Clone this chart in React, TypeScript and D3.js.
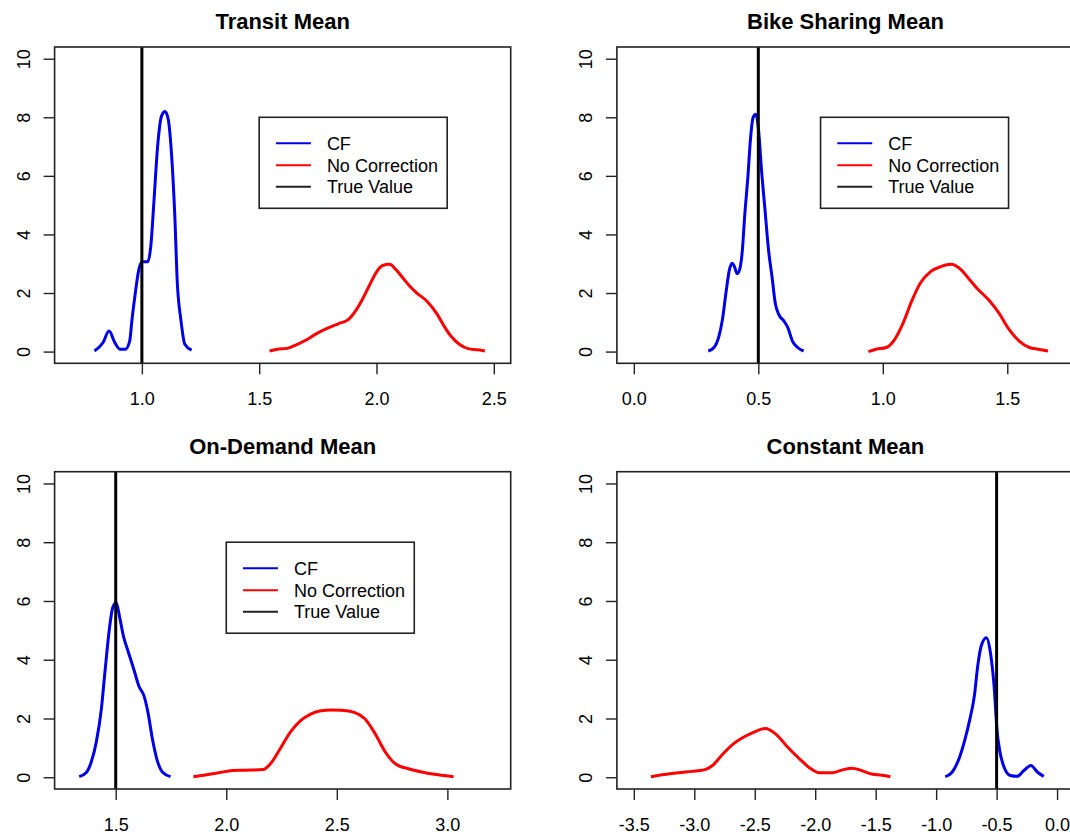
import { useEffect, useRef } from 'react'
import * as d3 from 'd3'

type Pt = [number, number]

// density curves: [x, density]
const transitCF: Pt[] = [
  [0.798, 0.02], [0.834, 0.3], [0.86, 0.7], [0.885, 0.3], [0.907, 0.08], [0.929, 0.08],
  [0.948, 0.36], [0.958, 1.1], [0.972, 2.0], [0.987, 2.8], [1.001, 3.07], [1.026, 3.07],
  [1.038, 3.6], [1.052, 5.2], [1.067, 7.0], [1.084, 8.05], [1.099, 8.2], [1.113, 7.9],
  [1.125, 6.9], [1.14, 4.7], [1.151, 2.35], [1.166, 1.1], [1.183, 0.25], [1.212, 0.05],
]
const transitNC: Pt[] = [
  [1.544, 0.02], [1.576, 0.08], [1.619, 0.11], [1.663, 0.25], [1.706, 0.42], [1.75, 0.64],
  [1.794, 0.81], [1.837, 0.95], [1.881, 1.1], [1.91, 1.38], [1.939, 1.77], [1.968, 2.23],
  [1.997, 2.68], [2.026, 2.94], [2.055, 2.98], [2.084, 2.79], [2.113, 2.51], [2.142, 2.23],
  [2.172, 2.0], [2.215, 1.72], [2.259, 1.27], [2.288, 0.87], [2.317, 0.53], [2.353, 0.25],
  [2.39, 0.1], [2.433, 0.06], [2.462, 0.02],
]
const bikeCF: Pt[] = [
  [0.299, 0.02], [0.322, 0.14], [0.342, 0.53], [0.356, 1.1], [0.37, 2.0], [0.384, 2.8],
  [0.395, 3.02], [0.404, 2.9], [0.415, 2.66], [0.425, 2.8], [0.436, 3.47], [0.445, 4.6],
  [0.459, 6.07], [0.468, 7.2], [0.479, 7.99], [0.49, 8.1], [0.5, 7.65], [0.514, 6.07],
  [0.527, 4.83], [0.541, 3.47], [0.555, 2.56], [0.568, 1.66], [0.582, 1.27], [0.603, 1.04],
  [0.619, 0.81], [0.637, 0.36], [0.658, 0.14], [0.682, 0.02],
]
const bikeNC: Pt[] = [
  [0.942, 0.0], [0.973, 0.08], [1.014, 0.14], [1.048, 0.42], [1.082, 0.98], [1.116, 1.72],
  [1.151, 2.34], [1.192, 2.73], [1.233, 2.9], [1.274, 2.98], [1.315, 2.79], [1.349, 2.45],
  [1.384, 2.11], [1.425, 1.77], [1.466, 1.32], [1.507, 0.76], [1.548, 0.36], [1.589, 0.14],
  [1.623, 0.08], [1.664, 0.02],
]
const demandCF: Pt[] = [
  [1.335, 0.02], [1.366, 0.15], [1.389, 0.51], [1.412, 1.19], [1.435, 2.32], [1.451, 3.56],
  [1.471, 5.03], [1.486, 5.76], [1.502, 5.95], [1.517, 5.48], [1.535, 4.8], [1.558, 4.24],
  [1.582, 3.67], [1.605, 3.1], [1.628, 2.77], [1.646, 2.2], [1.666, 1.3], [1.686, 0.62],
  [1.712, 0.17], [1.748, 0.02],
]
const demandNC: Pt[] = [
  [1.851, 0.02], [1.905, 0.08], [1.966, 0.15], [2.028, 0.23], [2.089, 0.24], [2.166, 0.26],
  [2.205, 0.51], [2.243, 0.96], [2.289, 1.53], [2.335, 1.92], [2.382, 2.15], [2.428, 2.26],
  [2.474, 2.29], [2.52, 2.28], [2.582, 2.2], [2.628, 1.98], [2.674, 1.47], [2.72, 0.85],
  [2.766, 0.45], [2.828, 0.28], [2.889, 0.17], [2.951, 0.09], [3.028, 0.02],
]
const constCF: Pt[] = [
  [-0.925, 0.02], [-0.868, 0.17], [-0.812, 0.62], [-0.761, 1.3], [-0.721, 1.98], [-0.684, 2.77],
  [-0.656, 3.79], [-0.628, 4.46], [-0.585, 4.75], [-0.551, 4.24], [-0.523, 3.22], [-0.495, 1.53],
  [-0.472, 0.85], [-0.438, 0.34], [-0.387, 0.06], [-0.33, 0.03], [-0.274, 0.23], [-0.217, 0.4],
  [-0.161, 0.17], [-0.11, 0.03],
]
const constNC: Pt[] = [
  [-3.359, 0.02], [-3.245, 0.09], [-3.132, 0.15], [-3.019, 0.2], [-2.92, 0.25], [-2.849, 0.4],
  [-2.764, 0.79], [-2.679, 1.13], [-2.594, 1.36], [-2.51, 1.53], [-2.411, 1.66], [-2.326, 1.47],
  [-2.227, 1.02], [-2.128, 0.62], [-2.043, 0.31], [-1.958, 0.15], [-1.859, 0.15], [-1.774, 0.25],
  [-1.695, 0.31], [-1.618, 0.23], [-1.533, 0.11], [-1.448, 0.07], [-1.378, 0.02],
]

const titles = ['Transit Mean', 'Bike Sharing Mean', 'On-Demand Mean', 'Constant Mean']
const trueValues = [1.0, 0.5, 1.5, -0.5]
const xLimits: Pt[] = [[0.7, 2.5], [0, 1.7], [1.3, 3.21], [-3.5, 0]]
const xTicks = [
  [1.0, 1.5, 2.0, 2.5],
  [0, 0.5, 1.0, 1.5],
  [1.5, 2.0, 2.5, 3.0],
  [-3.5, -3.0, -2.5, -2.0, -1.5, -1.0, -0.5, 0.0],
]
const yTicks = [0, 2, 4, 6, 8, 10]
const yLimits: Pt = [0, 10]
// legend anchor (top-left) in data units, null = no legend
const legendAt: (Pt | null)[] = [[1.5, 8], [0.75, 8], [2.0, 8], null]
const legendLabels = ['CF', 'No Correction', 'True Value']

const cfCurves = [transitCF, bikeCF, demandCF, constCF]
const ncCurves = [transitNC, bikeNC, demandNC, constNC]

const BLUE = '#0000e8'
const RED = '#ff0000'
const FONT = '"Liberation Sans", Arial, sans-serif'
const COLS = [[54.6, 510.7], [616.9, 1074]]
const ROWS = [[47, 363.3], [471.7, 789]]

export default function App() {
  const svgRef = useRef<SVGSVGElement>(null)

  useEffect(() => {
    const svg = d3.select(svgRef.current)
    svg.selectAll('*').remove()
    svg.append('rect').attr('width', 1070).attr('height', 837).attr('fill', '#fff')

    titles.forEach((title, i) => {
      const [x0, x1] = COLS[i % 2]
      const [y0, y1] = ROWS[Math.floor(i / 2)]
      const [a, b] = xLimits[i]
      const pad = (b - a) * 0.04
      const ypad = (yLimits[1] - yLimits[0]) * 0.04
      const x = d3.scaleLinear().domain([a - pad, b + pad]).range([x0, x1])
      const y = d3.scaleLinear().domain([yLimits[0] - ypad, yLimits[1] + ypad]).range([y1, y0])
      const g = svg.append('g')

      const clipId = `clip${i}`
      g.append('clipPath').attr('id', clipId)
        .append('rect').attr('x', x0).attr('y', y0).attr('width', x1 - x0).attr('height', y1 - y0)

      // title
      g.append('text').attr('x', (x0 + x1) / 2).attr('y', y0 - 18)
        .attr('text-anchor', 'middle').attr('font-family', FONT).attr('font-weight', 'bold')
        .attr('font-size', 22).attr('fill', '#000').text(title)

      // x axis
      g.append('g').attr('transform', `translate(0,${y1})`)
        .call(d3.axisBottom(x).tickValues(xTicks[i]).tickSize(11).tickSizeOuter(0).tickPadding(20)
          .tickFormat(v => (+v).toFixed(1)))
        .call(gg => {
          gg.select('.domain').remove()
          gg.selectAll('.tick line').attr('stroke', '#222').attr('stroke-width', 1.4)
          gg.selectAll('.tick text').attr('fill', '#000').attr('font-size', 18).attr('font-family', FONT)
            .attr('y', 42).attr('dy', 0)
        })

      // y axis, labels turned like R's las = 0
      g.append('g').attr('transform', `translate(${x0},0)`)
        .call(d3.axisLeft(y).tickValues(yTicks).tickSize(11).tickSizeOuter(0).tickFormat(d3.format('d')))
        .call(gg => {
          gg.select('.domain').remove()
          gg.selectAll('.tick line').attr('stroke', '#222').attr('stroke-width', 1.4)
          gg.selectAll('.tick text').attr('fill', '#000').attr('font-size', 18).attr('font-family', FONT)
            .attr('transform', 'rotate(-90)').attr('x', 0).attr('y', -25).attr('dy', 0)
            .attr('text-anchor', 'middle')
        })

      const line = d3.line<Pt>().x(d => x(d[0])).y(d => y(d[1])).curve(d3.curveMonotoneX)
      const plot = g.append('g').attr('clip-path', `url(#${clipId})`)
      plot.append('path').attr('d', line(cfCurves[i])).attr('fill', 'none')
        .attr('stroke', BLUE).attr('stroke-width', 3).attr('stroke-linejoin', 'round')
      plot.append('path').attr('d', line(ncCurves[i])).attr('fill', 'none')
        .attr('stroke', RED).attr('stroke-width', 3).attr('stroke-linejoin', 'round')
      plot.append('line').attr('x1', x(trueValues[i])).attr('x2', x(trueValues[i]))
        .attr('y1', y0).attr('y2', y1).attr('stroke', '#000').attr('stroke-width', 3)

      // box
      g.append('rect').attr('x', x0).attr('y', y0).attr('width', x1 - x0).attr('height', y1 - y0)
        .attr('fill', 'none').attr('stroke', '#222').attr('stroke-width', 1.6)

      const la = legendAt[i]
      if (la) {
        const lx = x(la[0]), ly = y(la[1])
        const lg = g.append('g').attr('transform', `translate(${lx},${ly})`)
        lg.append('rect').attr('width', 188).attr('height', 91).attr('fill', '#fff')
          .attr('stroke', '#222').attr('stroke-width', 1.6)
        const colors = [BLUE, RED, '#222']
        const rowY = [26, 48, 69.5]
        legendLabels.forEach((lab, k) => {
          lg.append('line').attr('x1', 16.7).attr('x2', 51.7).attr('y1', rowY[k]).attr('y2', rowY[k])
            .attr('stroke', colors[k]).attr('stroke-width', 2)
          lg.append('text').attr('x', 67.7).attr('y', rowY[k]).attr('dy', '0.36em')
            .attr('font-family', FONT).attr('font-size', 18).attr('fill', '#000').text(lab)
        })
      }
    })
  }, [])

  return (
    <svg ref={svgRef} width={1070} height={837}
      style={{ position: 'absolute', left: 0, top: 0, display: 'block' }} />
  )
}
